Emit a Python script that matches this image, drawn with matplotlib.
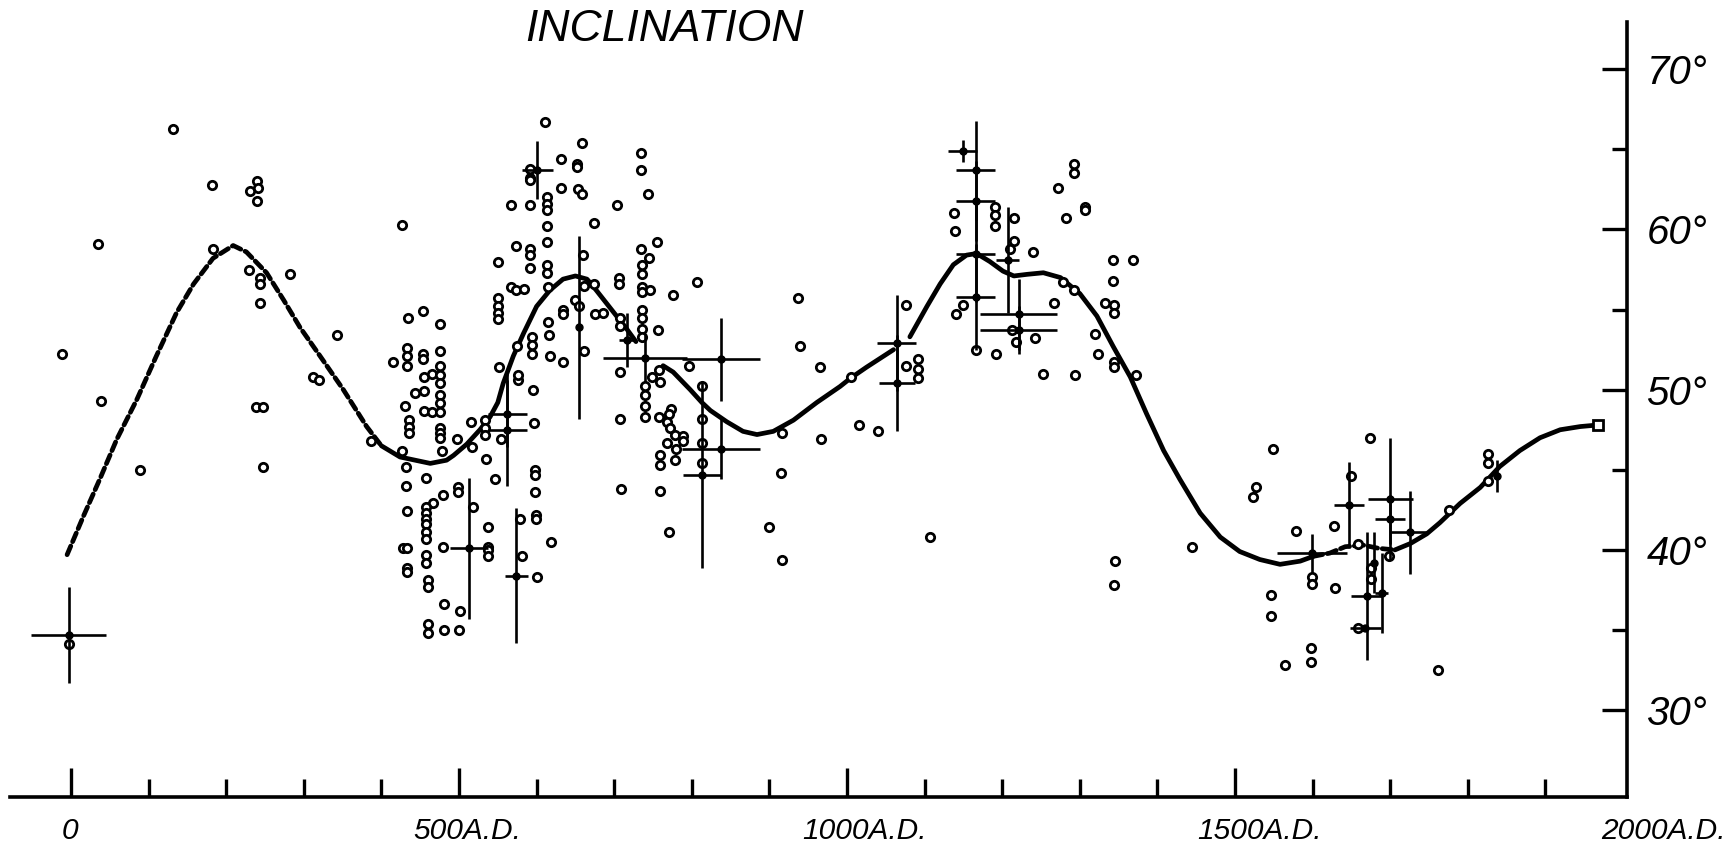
import numpy as np
import matplotlib.pyplot as plt
from matplotlib.ticker import FixedLocator

# archaeomagnetic inclination readings, (year A.D., inclination in degrees)
site_points = [
    (-12, 52.2), (35, 59.1), (39, 49.3), (89, 45.0), (131, 66.3), (182, 62.8), (183, 58.8),
    (231, 62.4), (240, 63.0), (241, 62.6), (240, 61.8), (229, 57.5), (243, 57.0), (243, 56.6),
    (243, 55.4), (238, 48.9), (247, 48.9), (248, 45.2), (282, 57.2), (312, 50.8), (320, 50.6),
    (343, 53.4), (387, 46.8), (415, 51.7), (426, 46.2), (427, 60.3), (430, 49.0), (432, 45.2),
    (433, 52.6), (433, 52.1), (433, 51.5), (434, 54.5), (436, 48.1), (436, 47.7), (436, 47.3),
    (443, 49.8), (453, 54.9), (454, 52.2), (454, 51.9), (455, 50.8), (455, 49.9), (455, 48.7),
    (458, 44.5), (465, 51.0), (465, 48.6), (475, 54.1), (476, 52.4), (476, 51.5), (476, 50.9),
    (476, 50.4), (476, 49.7), (476, 49.2), (476, 48.6), (476, 47.6), (476, 47.3), (476, 47.0),
    (478, 46.2),
    (-3, 34.1), (432, 44.0), (479, 43.4), (467, 42.9), (458, 42.7), (458, 42.3), (458, 41.9),
    (458, 41.6), (458, 41.1), (458, 40.7), (433, 42.4), (428, 40.1), (433, 40.1), (479, 40.2),
    (433, 38.9), (433, 38.6), (458, 39.7), (458, 39.2), (460, 38.1), (460, 37.7), (481, 36.6),
    (460, 35.4), (460, 34.8), (481, 35.0),
    (516, 48.0), (534, 48.1), (534, 47.6), (534, 47.2), (554, 46.9), (497, 46.9), (517, 46.4),
    (535, 45.7), (546, 44.4), (499, 43.9), (499, 43.6), (518, 42.7), (537, 41.4), (538, 40.2),
    (538, 40.0), (538, 39.6), (501, 36.2), (500, 35.0), (579, 41.9), (581, 39.6), (598, 45.0),
    (598, 44.7), (598, 43.6), (599, 42.2), (599, 41.9), (619, 40.5), (600, 38.3), (596, 50.0),
    (597, 47.9), (576, 50.6), (708, 48.2), (709, 43.8), (740, 50.2), (740, 49.7), (740, 49.0),
    (740, 48.3), (759, 50.5), (758, 48.3), (773, 48.8), (770, 48.5), (768, 48.0), (772, 47.6),
    (778, 47.2), (789, 47.1), (789, 46.8), (779, 46.3), (768, 46.7), (759, 45.9), (759, 45.3),
    (778, 45.6), (759, 43.7), (770, 41.1), (813, 50.2), (813, 48.2), (813, 46.7), (813, 45.4),
    (611, 66.7), (658, 65.4), (631, 64.4), (652, 64.1), (652, 63.9), (734, 64.8), (735, 63.7),
    (591, 63.8), (591, 63.2), (592, 63.1), (631, 62.6), (653, 62.5), (659, 62.2), (744, 62.2),
    (567, 61.5), (592, 61.5), (613, 62.0), (613, 61.6), (613, 61.2), (704, 61.5), (674, 60.4),
    (613, 60.2), (614, 59.2), (755, 59.2), (573, 59.0), (735, 58.8), (592, 58.8), (592, 58.4),
    (592, 57.6), (660, 58.4), (745, 58.2), (550, 58.0), (736, 57.8), (736, 57.2), (614, 57.8),
    (614, 57.3), (706, 57.0), (706, 56.6), (567, 56.4), (574, 56.2), (584, 56.3), (615, 56.4),
    (661, 56.5), (674, 56.6), (736, 56.4), (736, 56.1), (746, 56.2), (807, 56.7), (776, 55.9),
    (550, 55.7), (550, 55.2), (550, 54.8), (550, 54.4), (649, 55.6), (655, 55.2), (634, 55.0),
    (634, 54.7), (675, 54.7), (685, 54.8), (736, 55.0), (736, 54.5), (736, 53.8), (736, 53.3),
    (707, 54.5), (707, 54.0), (756, 53.7), (615, 54.2), (616, 53.4), (617, 52.1), (634, 51.7),
    (661, 52.4), (594, 53.3), (594, 52.8), (594, 52.2), (575, 52.7), (576, 50.9), (708, 51.1),
    (758, 51.2), (797, 51.5), (749, 50.8), (551, 51.4),
    (937, 55.7), (939, 52.7), (965, 51.4), (1005, 50.8), (1015, 47.8), (1040, 47.4), (916, 47.3),
    (966, 46.9), (915, 44.8), (900, 41.4), (916, 39.4), (1107, 40.8), (1076, 55.3), (1076, 51.5),
    (1092, 51.9), (1092, 51.3), (1092, 50.7), (1138, 61.0), (1139, 59.9), (1191, 61.4),
    (1191, 60.9), (1191, 60.2), (1150, 55.3), (1141, 54.7), (1166, 52.5), (1192, 52.2),
    (1215, 60.7), (1215, 59.3), (1210, 58.8),
    (1212, 53.7), (1218, 53.0), (1240, 58.6), (1272, 62.6), (1292, 64.1), (1292, 63.5),
    (1282, 60.7), (1307, 61.4), (1307, 61.2), (1278, 56.7), (1292, 56.2), (1267, 55.4),
    (1242, 53.2), (1252, 51.0), (1294, 50.9), (1343, 58.1), (1368, 58.1), (1343, 56.8),
    (1333, 55.4), (1344, 55.3), (1344, 54.8), (1319, 53.5), (1323, 52.2), (1344, 51.7),
    (1344, 51.4), (1372, 50.9), (1549, 46.3), (1527, 43.9), (1523, 43.3), (1578, 41.2),
    (1445, 40.2), (1345, 39.3), (1344, 37.8), (1546, 37.2), (1546, 35.9), (1565, 32.8),
    (1674, 47.0), (1826, 46.0), (1826, 45.4), (1826, 44.3), (1776, 42.5), (1649, 44.6),
    (1628, 41.5), (1675, 38.9), (1675, 38.2), (1699, 39.6), (1659, 40.4), (1599, 38.3),
    (1599, 37.9), (1629, 37.6), (1598, 33.9), (1598, 33.0), (1761, 32.5), (1659, 35.1),
]

# dated results with error limits: year, inclination, +/- years, +/- degrees
cross_year = [-3, 601, 562, 562, 513, 574, 655, 716, 740, 838, 838, 813, 1064, 1064,
              1149, 1166, 1166, 1166, 1166, 1207, 1221, 1221, 1599, 1647, 1670, 1668,
              1679, 1689, 1700, 1700, 1725, 1838]
cross_incl = [34.7, 63.7, 48.5, 47.5, 40.1, 38.4, 53.9, 53.1, 52.0, 51.9, 46.3, 44.7, 52.9, 50.4,
              64.9, 63.7, 61.8, 58.5, 55.8, 58.1, 54.7, 53.7, 39.8, 42.8, 37.1, 35.1,
              39.2, 37.3, 43.2, 41.9, 41.1, 44.6]
cross_dyear = [48, 20, 25, 25, 24, 15, 0, 10, 54, 50, 50, 24, 25, 23,
               19, 25, 25, 25, 25, 15, 50, 50, 45, 19, 20, 20,
               0, 8, 29, 19, 24, 0]
cross_dincl = [3.0, 1.8, 2.1, 3.5, 4.4, 4.2, 5.7, 1.7, 1.5, 2.6, 1.9, 5.8, 3.0, 3.0,
               0.7, 3.1, 2.5, 3.0, 3.3, 3.3, 2.2, 1.5, 1.2, 2.7, 4.0, 0.0,
               1.9, 2.5, 3.8, 1.5, 2.6, 1.0]

# smoothed secular variation curve, drawn in pieces as on the original
curve_early = [(-5, 39.7), (16, 42.1), (37, 44.4), (59, 46.9), (85, 49.4), (110, 52.1),
               (136, 54.8), (158, 56.6), (183, 58.2), (209, 59.0), (226, 58.6), (252, 57.3),
               (274, 55.6), (295, 53.9), (321, 52.1), (351, 50.0), (381, 47.7), (400, 46.5)]
curve_a = [(400, 46.5), (424, 45.8), (463, 45.4), (484, 45.6), (493, 45.9), (510, 46.6),
           (527, 47.5), (540, 48.3), (550, 49.2), (557, 50.4), (570, 52.1), (583, 53.5),
           (600, 55.2), (617, 56.2), (634, 56.9), (650, 57.1), (665, 56.9), (677, 56.2),
           (690, 55.4), (703, 54.6), (716, 53.8), (728, 53.0)]
curve_b = [(763, 51.5), (776, 51.1), (798, 50.0), (813, 49.2), (824, 48.7), (845, 48.0),
           (866, 47.4), (884, 47.2), (905, 47.4), (931, 48.1), (961, 49.2), (991, 50.2),
           (1004, 50.7), (1025, 51.4), (1060, 52.5)]
curve_c = [(1081, 53.3), (1103, 55.2), (1120, 56.6), (1137, 57.8), (1154, 58.4), (1167, 58.5),
           (1184, 58.0), (1201, 57.4), (1215, 57.1), (1232, 57.2), (1253, 57.3), (1275, 57.0),
           (1300, 56.0), (1322, 54.6), (1343, 52.7), (1365, 50.8), (1386, 48.5), (1408, 46.2),
           (1429, 44.4), (1455, 42.3), (1481, 40.8), (1506, 39.9), (1532, 39.4), (1558, 39.1),
           (1584, 39.3), (1601, 39.6)]
curve_gap = [(1601, 39.6), (1622, 39.8), (1642, 40.2), (1665, 40.3), (1685, 40.1), (1706, 40.0)]
curve_late = [(1706, 40.0), (1726, 40.4), (1747, 41.0), (1764, 41.7), (1790, 42.9), (1816, 43.9),
              (1841, 45.2), (1867, 46.2), (1893, 47.0), (1919, 47.5), (1945, 47.7), (1968, 47.8)]
present_day = (1968, 47.8)

incl_ticks = [30, 40, 50, 60, 70]
incl_labels = ['30°', '40°', '50°', '60°', '70°']
year_labels = ['0', '500A.D.', '1000A.D.', '1500A.D.', '2000A.D.']

LETTERS = ['Liberation Sans Narrow', 'DejaVu Sans Condensed', 'Liberation Sans', 'DejaVu Sans']


def main():
    fig = plt.figure(figsize=(17.26, 8.5), dpi=100)
    ax = fig.add_axes([0.0056, 0.0624, 0.937, 0.9117])

    for seg, style in [(curve_early, 'dashed'), (curve_a, 'solid'), (curve_b, 'solid'),
                       (curve_c, 'solid'), (curve_gap, 'dashed'), (curve_late, 'solid')]:
        xs, ys = zip(*seg)
        line, = ax.plot(xs, ys, color='black', lw=3.4, solid_capstyle='round',
                        dash_capstyle='round', zorder=3)
        if style == 'dashed':
            line.set_dashes((2.0, 1.0))
    ax.plot(*present_day, marker='s', ms=7.5, mfc='white', mec='black', mew=2.0, zorder=5)

    px, py = zip(*site_points)
    ax.plot(px, py, 'o', ms=6.0, mfc='white', mec='black', mew=2.0, zorder=4)

    ax.errorbar(cross_year, cross_incl, xerr=cross_dyear, yerr=cross_dincl, fmt='o',
                ms=5, color='black', elinewidth=1.9, capsize=0, zorder=4)

    ax.set_xlim(-79, 2005)
    ax.set_ylim(24.58, 72.95)

    for side in ('left', 'top'):
        ax.spines[side].set_visible(False)
    for side in ('bottom', 'right'):
        ax.spines[side].set_linewidth(2.6)

    ax.xaxis.set_major_locator(FixedLocator([0, 500, 1000, 1500]))
    ax.xaxis.set_minor_locator(FixedLocator([y for y in range(100, 2000, 100) if y % 500]))
    ax.tick_params(axis='x', which='both', direction='in', width=2.4, labelbottom=False)
    ax.tick_params(axis='x', which='major', length=21)
    ax.tick_params(axis='x', which='minor', length=13)

    ax.yaxis.tick_right()
    ax.set_yticks(incl_ticks)
    ax.set_yticklabels(incl_labels, family=LETTERS, style='italic', fontsize=29)
    ax.yaxis.set_minor_locator(FixedLocator([35, 45, 55, 65]))
    ax.tick_params(axis='y', which='both', direction='in', width=2.4, pad=14)
    ax.tick_params(axis='y', which='major', length=18)
    ax.tick_params(axis='y', which='minor', length=11)

    # year labels under the axis; the last one sits right of the corner
    for pos, lab, align in zip([-1, 511, 1023, 1532, 2132], year_labels,
                               ['center'] * 4 + ['right']):
        ax.text(pos, -0.044, lab, transform=ax.get_xaxis_transform(), ha=align, va='center',
                family=LETTERS, style='italic', fontsize=21.5, clip_on=False)

    fig.text(0.385, 0.965, 'INCLINATION', ha='center', va='center', family=LETTERS,
             style='italic', fontsize=32)

    fig.savefig('out.png', dpi=100, facecolor='white')


if __name__ == "__main__":
    main()
